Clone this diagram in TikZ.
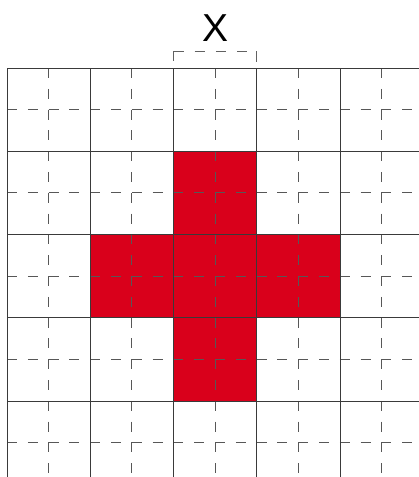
\documentclass[tikz,border=0pt]{standalone}
\usepackage{fontspec}
\setmainfont{Liberation Sans}
\usetikzlibrary{positioning}
\definecolor{crossred}{HTML}{D9001B}
\definecolor{lineg}{HTML}{3A3A3A}

\begin{document}
\begin{tikzpicture}[x=1pt, y=-1pt,
  gridline/.style={lineg, line width=0.9pt},
  halfline/.style={lineg!85, line width=0.8pt, dash pattern=on 10pt off 10.8pt},
  bracket/.style={lineg!80, line width=0.8pt},
  crosscell/.style={fill=crossred}]
\useasboundingbox (0,0) rectangle (419,477);

% red cross
\foreach \cx/\cy in {1/2, 2/1, 2/2, 2/3, 3/2}
  \fill[crosscell] (7+83.25*\cx, 68+83.25*\cy) rectangle ++(83.25,83.25);

% half-cell lines
\foreach \i in {0,...,4} {
  \draw[halfline] (48.6+83.25*\i, 68) -- (48.6+83.25*\i, 477);
  \draw[halfline] (7, 109.6+83.25*\i) -- (419, 109.6+83.25*\i);
}

% cell lines
\foreach \i in {0,...,4} {
  \draw[gridline] (7+83.25*\i, 68) -- (7+83.25*\i, 477);
  \draw[gridline] (7, 68+83.25*\i) -- (419, 68+83.25*\i);
}

% width label
\node[font=\fontsize{39}{39}\selectfont, inner sep=0pt] (lbl) at (215.1, 28) {X};
\coordinate (brl) at (173.5,51);
\coordinate (brr) at (256.75,51);
\draw[bracket, dash pattern=on 10pt off 11.2pt] (brl) -- (brr);
\draw[bracket] (brl) -- ++(0,10);
\draw[bracket] (brr) -- ++(0,11);
\end{tikzpicture}
\end{document}
